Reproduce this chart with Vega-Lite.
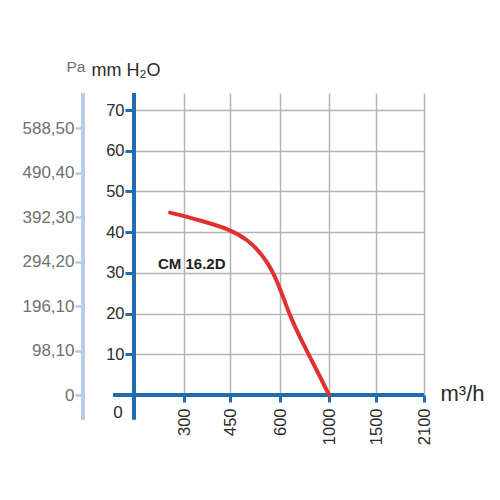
{
  "$schema": "https://vega.github.io/schema/vega-lite/v6.json",
  "description": "Fan curve CM 16.2D: pressure against air flow.",
  "width": 290,
  "height": 302,
  "autosize": {"type": "none"},
  "padding": {"left": 134, "top": 93, "right": 76, "bottom": 105},
  "config": {"view": {"stroke": null}, "font": "Liberation Sans"},
  "resolve": {"scale": {"y": "independent"}},
  "encoding": {
    "x": {
      "field": "x", "type": "quantitative",
      "scale": {"domain": [0, 300, 450, 600, 1000, 1500, 2100], "range": [0, 50, 96, 146, 195, 242, 290], "nice": false, "zero": false},
      "axis": {
        "orient": "bottom", "domain": false,
        "values": [300, 450, 600, 1000, 1500, 2100], "format": "d",
        "tickColor": "#1f6cb1", "tickWidth": 3, "tickSize": 7,
        "labelAngle": -90, "labelFontSize": 16.5, "labelColor": "#2b2b2b", "labelPadding": 6,
        "labelFlush": false, "labelOverlap": false,
        "grid": true, "gridColor": "#b5b5b5", "gridWidth": 1.5,
        "title": "m³/h", "titleAngle": 0, "titleAlign": "left", "titleBaseline": "alphabetic",
        "titleX": 306, "titleY": 5, "titleColor": "#2b2b2b", "titleFontSize": 22, "titleFontWeight": "normal"
      }
    }
  },
  "layer": [
    {
      "data": {"values": [{"x": -306, "pa": -55.2, "pa2": 666.4}]},
      "mark": {"type": "rule", "color": "#b6cce4", "strokeWidth": 4},
      "encoding": {
        "y": {
          "field": "pa", "type": "quantitative",
          "scale": {"domain": [0, 666.4], "nice": false, "zero": false},
          "axis": {
            "orient": "left", "offset": 51, "domain": false, "grid": false,
            "values": [0, 98.1, 196.1, 294.2, 392.3, 490.4, 588.5],
            "labelExpr": "datum.value === 0 ? '0' : replace(format(datum.value, '.2f'), '.', ',')",
            "tickColor": "#b6cce4", "tickWidth": 2.5, "tickSize": 8,
            "labelColor": "#707070", "labelFontSize": 17, "labelPadding": 1, "labelOverlap": false,
            "encode": {"labels": {"update": {"dx": {"signal": "datum.value === 0 ? -12 : 0"}}}},
            "title": "Pa", "titleAngle": 0, "titleAlign": "left", "titleBaseline": "alphabetic",
            "titleX": -17, "titleY": -22, "titleColor": "#707070", "titleFontSize": 15.5, "titleFontWeight": "normal"
          }
        },
        "y2": {"field": "pa2"}
      }
    },
    {
      "encoding": {
        "y": {
          "field": "y", "type": "quantitative",
          "scale": {"domain": [0, 74.18], "nice": false, "zero": false},
          "axis": {
            "orient": "left", "domain": false,
            "values": [10, 20, 30, 40, 50, 60, 70],
            "tickColor": "#1f6cb1", "tickWidth": 3, "tickSize": 9,
            "labelFontSize": 16.5, "labelColor": "#2b2b2b", "labelPadding": 1, "labelOverlap": false,
            "grid": true, "gridColor": "#b5b5b5", "gridWidth": 1.5,
            "title": "mm H₂O", "titleAngle": 0, "titleAlign": "left", "titleBaseline": "alphabetic",
            "titleX": -43, "titleY": -18, "titleColor": "#2b2b2b", "titleFontSize": 18, "titleFontWeight": "normal"
          }
        }
      },
      "layer": [
        {
          "data": {"values": [
            {"x": -126, "x2": 2100, "y": 0, "y2": 0},
            {"x": 0, "x2": 0, "y": -6.1, "y2": 74.18}
          ]},
          "mark": {"type": "rule", "color": "#1f6cb1", "strokeWidth": 4},
          "encoding": {"x2": {"field": "x2"}, "y2": {"field": "y2"}}
        },
        {
          "data": {"values": [
            {"x": 216, "y": 44.8},
            {"x": 352, "y": 42.9},
            {"x": 450, "y": 40.7},
            {"x": 504, "y": 38.1},
            {"x": 546, "y": 34.6},
            {"x": 576, "y": 30.7},
            {"x": 597, "y": 26.8},
            {"x": 641, "y": 22.8},
            {"x": 690, "y": 18.9},
            {"x": 763, "y": 14.2},
            {"x": 845, "y": 9.3},
            {"x": 927, "y": 4.5},
            {"x": 1000, "y": 0}
          ]},
          "mark": {"type": "line", "color": "#e0312e", "strokeWidth": 4, "interpolate": "basis", "strokeCap": "round"},
          "encoding": {}
        },
        {
          "data": {"values": [{"x": 144, "y": 32.1, "label": "CM 16.2D"}]},
          "mark": {"type": "text", "align": "left", "baseline": "middle", "fontSize": 15, "fontWeight": "bold", "color": "#222222"},
          "encoding": {"text": {"field": "label"}}
        },
        {
          "data": {"values": [{"x": -96, "y": -4.4, "label": "0"}]},
          "mark": {"type": "text", "align": "center", "baseline": "middle", "fontSize": 17, "color": "#2b2b2b"},
          "encoding": {"text": {"field": "label"}}
        }
      ]
    }
  ]
}
